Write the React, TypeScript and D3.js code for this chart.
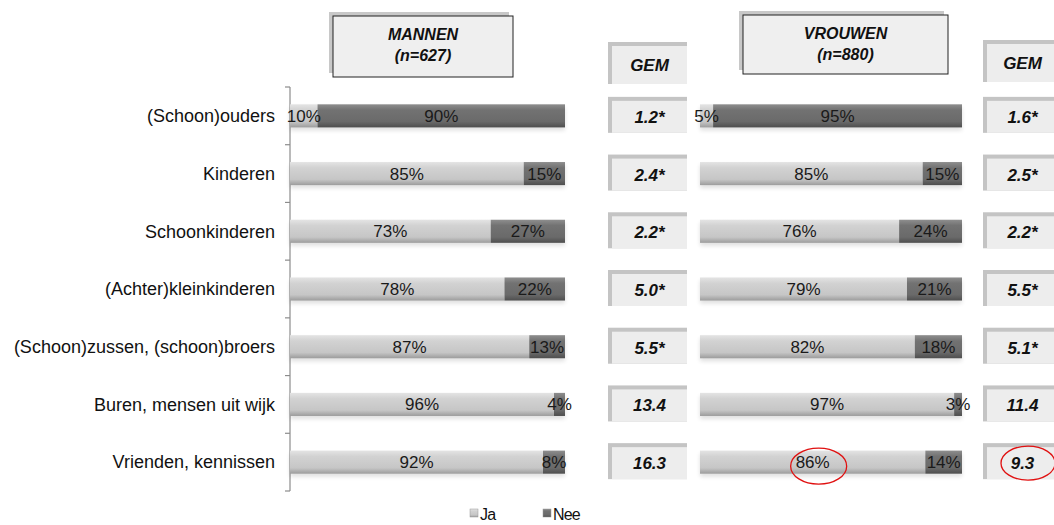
import React from "react";
import * as d3 from "d3";

const categories = [
  "(Schoon)ouders",
  "Kinderen",
  "Schoonkinderen",
  "(Achter)kleinkinderen",
  "(Schoon)zussen, (schoon)broers",
  "Buren, mensen uit wijk",
  "Vrienden, kennissen",
];
const menJa = [10, 85, 73, 78, 87, 96, 92];
const menNee = [90, 15, 27, 22, 13, 4, 8];
const womenJa = [5, 85, 76, 79, 82, 97, 86];
const womenNee = [95, 15, 24, 21, 18, 3, 14];
const menGem = ["1.2*", "2.4*", "2.2*", "5.0*", "5.5*", "13.4", "16.3"];
const womenGem = ["1.6*", "2.5*", "2.2*", "5.5*", "5.1*", "11.4", "9.3"];
const legendLabels = ["Ja", "Nee"];

const W = 1054;
const H = 525;
const LABEL_FONT = "'Liberation Sans', Arial, sans-serif";

function Panel({ x0, x1, ja, nee, axis }: { x0: number; x1: number; ja: number[]; nee: number[]; axis: boolean }) {
  const y = d3.scaleBand<string>().domain(categories).range([87, 491]).paddingInner(0.6).paddingOuter(0.3);
  const yOuter = d3.scaleBand<string>().domain(categories).range([87, 491]);
  const x = d3.scaleLinear().domain([0, 100]).range([x0, x1]);
  return (
    <g>
      {axis && (
        <g stroke="#8c8c8c" strokeWidth={1.2}>
          <line x1={x0} x2={x0} y1={87} y2={491} />
          {[...categories.map((c) => yOuter(c) as number), 491].map((t, i) => (
            <line key={i} x1={x0 - 5} x2={x0} y1={t} y2={t} />
          ))}
        </g>
      )}
      {categories.map((c, i) => {
        const yy = y(c) as number;
        const bh = y.bandwidth();
        const xj = x(0);
        const xn = x(ja[i]);
        const xe = x(ja[i] + nee[i]);
        return (
          <g key={c}>
            <rect x={xj} y={yy + 3} width={xe - xj} height={bh} fill="#000" opacity={0.12} filter="url(#blur)" />
            <rect x={xj} y={yy} width={xn - xj} height={bh} fill="url(#gJa)" />
            <rect x={xn} y={yy} width={xe - xn} height={bh} fill="url(#gNee)" />
            <text x={(xj + xn) / 2} y={yy + bh / 2} dy="0.35em" textAnchor="middle" fontSize={17} fill="#1a1a1a" fontFamily={LABEL_FONT}>
              {ja[i]}%
            </text>
            <text x={(xn + xe) / 2} y={yy + bh / 2} dy="0.35em" textAnchor="middle" fontSize={17} fill="#1a1a1a" fontFamily={LABEL_FONT}>
              {nee[i]}%
            </text>
          </g>
        );
      })}
    </g>
  );
}

function GemColumn({ x0, x1, values, headerY }: { x0: number; x1: number; values: string[]; headerY: [number, number] }) {
  const yOuter = d3.scaleBand<string>().domain(categories).range([87, 491]);
  const box = (key: string, top: number, bottom: number, label: string) => (
    <g key={key}>
      <rect x={x0} y={top} width={x1 - x0} height={bottom - top} fill="#c4c4c4" />
      <rect x={x0 + 4} y={top + 4} width={x1 - x0 - 4} height={bottom - top - 4} fill="#ededed" />
      <text
        x={(x0 + 4 + x1) / 2}
        y={(top + bottom) / 2 + 2}
        dy="0.35em"
        textAnchor="middle"
        fontSize={17}
        fontWeight="bold"
        fontStyle="italic"
        fontFamily={LABEL_FONT}
        fill="#111"
      >
        {label}
      </text>
    </g>
  );
  return (
    <g>
      {box("h", headerY[0], headerY[1], "GEM")}
      {values.map((v, i) => {
        const c = (yOuter(categories[i]) as number) + yOuter.bandwidth() / 2;
        return box(String(i), c - 19, c + 17, v);
      })}
    </g>
  );
}

function Header({ x0, x1, y0, y1, lines }: { x0: number; x1: number; y0: number; y1: number; lines: string[] }) {
  return (
    <g>
      <rect x={x0 - 4} y={y0 - 4} width={x1 - x0} height={y1 - y0} fill="#c8c8c8" />
      <rect x={x0} y={y0} width={x1 - x0} height={y1 - y0} fill="#efefef" stroke="#222" strokeWidth={1} />
      {lines.map((l, i) => (
        <text
          key={l}
          x={(x0 + x1) / 2}
          y={y0 + 18 + i * 21}
          dy="0.35em"
          textAnchor="middle"
          fontSize={16}
          fontWeight="bold"
          fontStyle="italic"
          fontFamily={LABEL_FONT}
          fill="#111"
        >
          {l}
        </text>
      ))}
    </g>
  );
}

export default function App() {
  const yOuter = d3.scaleBand<string>().domain(categories).range([87, 491]);
  const womenLast = d3.scaleLinear().domain([0, 100]).range([700, 962]);
  const lastC = (yOuter(categories[6]) as number) + yOuter.bandwidth() / 2;
  const legendColors = ["url(#gJa)", "url(#gNee)"];
  const legendX = [470, 543];
  return (
    <svg width={W} height={H} style={{ position: "absolute", left: 0, top: 0, background: "#fff" }}>
      <defs>
        <linearGradient id="gJa" x1="0" y1="0" x2="0" y2="1">
          <stop offset="0" stopColor="#e4e4e4" />
          <stop offset="0.25" stopColor="#d2d2d2" />
          <stop offset="0.75" stopColor="#c6c6c6" />
          <stop offset="1" stopColor="#9c9c9c" />
        </linearGradient>
        <linearGradient id="gNee" x1="0" y1="0" x2="0" y2="1">
          <stop offset="0" stopColor="#8e8e8e" />
          <stop offset="0.25" stopColor="#727272" />
          <stop offset="0.75" stopColor="#6a6a6a" />
          <stop offset="1" stopColor="#4e4e4e" />
        </linearGradient>
        <filter id="blur" x="-5%" y="-50%" width="110%" height="200%">
          <feGaussianBlur stdDeviation="2" />
        </filter>
      </defs>

      {categories.map((c) => (
        <text
          key={c}
          x={275}
          y={(yOuter(c) as number) + yOuter.bandwidth() / 2}
          dy="0.35em"
          textAnchor="end"
          fontSize={18}
          fontFamily={LABEL_FONT}
          fill="#111"
        >
          {c}
        </text>
      ))}

      <Header x0={333} x1={513} y0={16} y1={77} lines={["MANNEN", "(n=627)"]} />
      <Header x0={743} x1={948} y0={15} y1={74} lines={["VROUWEN", "(n=880)"]} />

      <Panel x0={290} x1={565} ja={menJa} nee={menNee} axis={true} />
      <Panel x0={700} x1={962} ja={womenJa} nee={womenNee} axis={false} />

      <GemColumn x0={608} x1={687} values={menGem} headerY={[42, 84]} />
      <GemColumn x0={983} x1={1058} values={womenGem} headerY={[40, 82]} />

      <ellipse cx={(womenLast(0) + womenLast(womenJa[6])) / 2 + 6} cy={lastC + 4} rx={28} ry={18} fill="none" stroke="#e01010" strokeWidth={1.3} />
      <ellipse cx={1028} cy={lastC + 1} rx={27} ry={17} fill="none" stroke="#e01010" strokeWidth={1.3} />

      {legendLabels.map((l, i) => (
        <g key={l}>
          <rect x={legendX[i]} y={509} width={8} height={8} fill={legendColors[i]} stroke="#999" strokeWidth={0.5} />
          <text x={legendX[i] + 10} y={514} dy="0.35em" fontSize={16} fontFamily={LABEL_FONT} fill="#111" letterSpacing={-0.8}>
            {l}
          </text>
        </g>
      ))}
    </svg>
  );
}
